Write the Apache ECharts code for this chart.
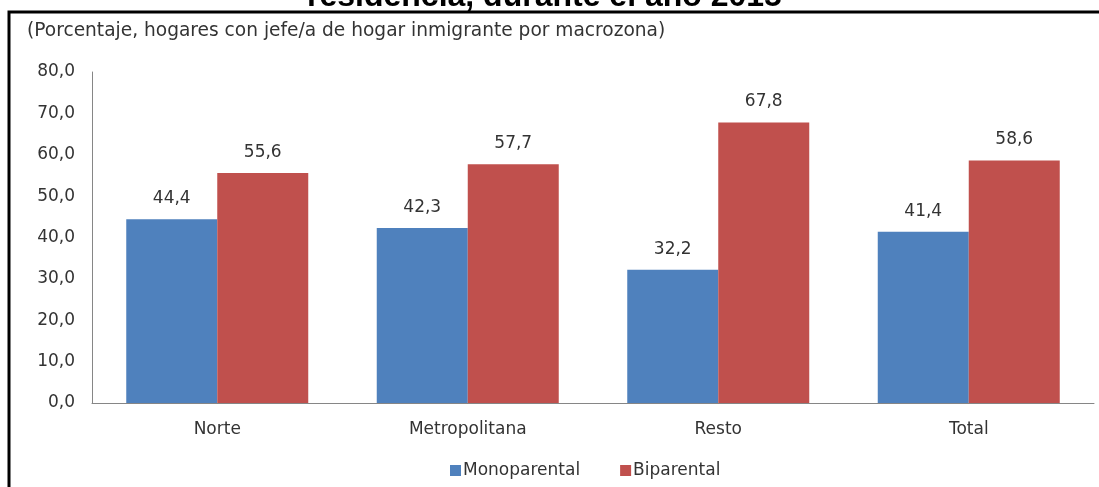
<!DOCTYPE html>
<html>
<head>
<meta charset="utf-8">
<script src="https://cdn.jsdelivr.net/npm/echarts@6/dist/echarts.min.js"></script>
<style>
  html, body { margin: 0; padding: 0; background: #fff; }
  #chart { width: 1099px; height: 487px; }
</style>
</head>
<body>
<div id="chart"></div>
<script>
var categories = ['Norte', 'Metropolitana', 'Resto', 'Total'];
var monoparental = [44.4, 42.3, 32.2, 41.4];
var biparental = [55.6, 57.7, 67.8, 58.6];

function fmt(v) {
    return Number(v).toFixed(1).replace('.', ',');
}

var myChart = echarts.init(document.getElementById('chart'));
var font = 'DejaVu Sans';

var option = {
    backgroundColor: '#fff',
    animation: false,
    title: {
        text: 'residencia, durante el año 2015',
        left: 302,
        top: -24,
        textStyle: {
            fontFamily: 'Liberation Sans',
            fontWeight: 'bold',
            fontSize: 32,
            color: '#000'
        }
    },
    graphic: [
        {
            type: 'polyline',
            shape: { points: [[9, 600], [9, 12], [1300, 12]] },
            style: { fill: 'none', stroke: '#000', lineWidth: 3 },
            z: 10
        },
        {
            type: 'text',
            left: 27,
            top: 22,
            style: {
                text: '(Porcentaje, hogares con jefe/a de hogar inmigrante por macrozona)',
                font: '18.6px "DejaVu Sans"',
                fill: '#333'
            }
        }
    ],
    legend: {
        left: 445,
        top: 457,
        itemWidth: 11,
        itemHeight: 11,
        itemGap: 40,
        icon: 'rect',
        textStyle: { fontFamily: font, fontSize: 17, color: '#333', padding: [0, 0, 0, -3] },
        data: ['Monoparental', 'Biparental']
    },
    grid: {
        left: 92,
        right: 5,
        top: 72,
        bottom: 84
    },
    xAxis: {
        type: 'category',
        data: categories,
        axisLine: { lineStyle: { color: '#868686', width: 1 } },
        axisTick: { show: false },
        axisLabel: { fontFamily: font, fontSize: 17, color: '#333', margin: 18 }
    },
    yAxis: {
        type: 'value',
        min: 0,
        max: 80,
        interval: 10,
        axisLine: { show: true, lineStyle: { color: '#868686', width: 1 } },
        axisTick: { show: false },
        splitLine: { show: false },
        axisLabel: {
            fontFamily: font, fontSize: 17, color: '#333', margin: 17,
            formatter: function (v) { return fmt(v); }
        }
    },
    series: [
        {
            name: 'Monoparental',
            type: 'bar',
            data: monoparental,
            barWidth: 91,
            barGap: '0%',
            itemStyle: { color: '#4F81BD' },
            label: {
                show: true, position: 'top', distance: 12,
                fontFamily: font, fontSize: 17, color: '#333',
                formatter: function (p) { return fmt(p.value); }
            }
        },
        {
            name: 'Biparental',
            type: 'bar',
            data: biparental,
            barWidth: 91,
            itemStyle: { color: '#C0504D' },
            label: {
                show: true, position: 'top', distance: 12,
                fontFamily: font, fontSize: 17, color: '#333',
                formatter: function (p) { return fmt(p.value); }
            }
        }
    ]
};

myChart.setOption(option);
</script>
</body>
</html>
